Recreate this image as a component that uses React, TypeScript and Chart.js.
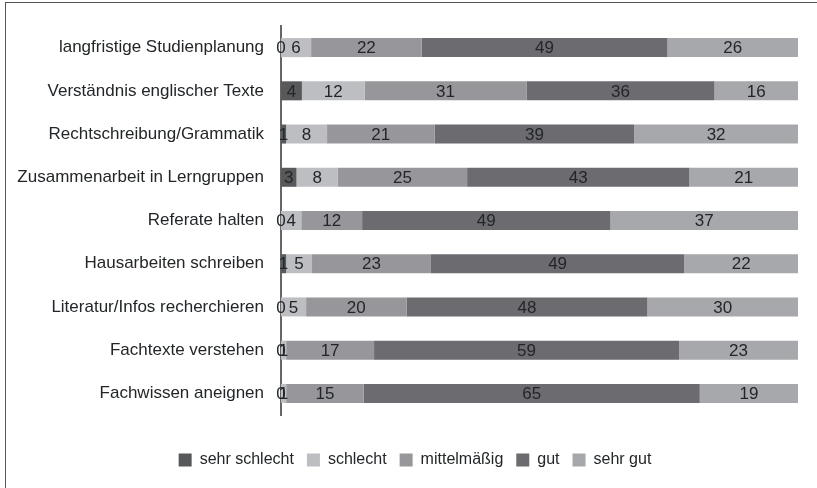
import React, { useEffect, useRef } from "react";
import { Chart, registerables } from "chart.js";

Chart.register(...registerables);

const categories = [
  "langfristige Studienplanung",
  "Verständnis englischer Texte",
  "Rechtschreibung/Grammatik",
  "Zusammenarbeit in Lerngruppen",
  "Referate halten",
  "Hausarbeiten schreiben",
  "Literatur/Infos recherchieren",
  "Fachtexte verstehen",
  "Fachwissen aneignen",
];

const sehrSchlecht = [0, 4, 1, 3, 0, 1, 0, 0, 0];
const schlecht = [6, 12, 8, 8, 4, 5, 5, 1, 1];
const mittelmaessig = [22, 31, 21, 25, 12, 23, 20, 17, 15];
const gut = [49, 36, 39, 43, 49, 49, 48, 59, 65];
const sehrGut = [26, 16, 32, 21, 37, 22, 30, 23, 19];

const seriesNames = ["sehr schlecht", "schlecht", "mittelmäßig", "gut", "sehr gut"];
const seriesValues = [sehrSchlecht, schlecht, mittelmaessig, gut, sehrGut];
const seriesColors = ["#58595b", "#bdbec2", "#97979b", "#6b6b70", "#a7a8ab"];

const FONT = "'Liberation Sans', Arial, sans-serif";
const TEXT = "#232628";

const rowSums = categories.map((_, i) =>
  seriesValues.reduce((s, arr) => s + arr[i], 0)
);

const labelPlugin = {
  id: "segmentLabels",
  afterDatasetsDraw(chart: any) {
    const ctx = chart.ctx;
    ctx.save();
    ctx.font = `17px ${FONT}`;
    ctx.fillStyle = TEXT;
    ctx.textAlign = "center";
    ctx.textBaseline = "middle";
    chart.data.datasets.forEach((ds: any, di: number) => {
      const meta = chart.getDatasetMeta(di);
      meta.data.forEach((el: any, i: number) => {
        const p = el.getProps(["x", "y", "base"], true);
        const cx = (p.x + p.base) / 2;
        ctx.fillText(String(ds.rawValues[i]), cx, p.y + 1);
      });
    });
    ctx.restore();
  },
};

const legendShiftPlugin = {
  id: "legendShift",
  afterLayout(chart: any) {
    const lg = chart.legend;
    if (lg) {
      lg.left += 16;
      lg.right += 16;
    }
  },
};

export default function App() {
  const canvasRef = useRef<HTMLCanvasElement | null>(null);

  useEffect(() => {
    document.body.style.margin = "0";
    const canvas = canvasRef.current;
    if (!canvas) return;
    const chart = new Chart(canvas, {
      type: "bar",
      data: {
        labels: categories,
        datasets: seriesNames.map((name, si) => ({
          label: name,
          data: seriesValues[si].map((v, i) => (v / rowSums[i]) * 100),
          rawValues: seriesValues[si],
          backgroundColor: seriesColors[si],
          borderWidth: 0,
          barPercentage: 0.44,
          categoryPercentage: 1,
        })) as any,
      },
      options: {
        indexAxis: "y",
        animation: false,
        responsive: false,
        maintainAspectRatio: false,
        layout: { padding: { top: 26, right: 19, left: 0, bottom: 10 } },
        scales: {
          x: {
            stacked: true,
            min: 0,
            max: 100,
            display: true,
            grid: { display: false },
            border: { display: false },
            ticks: { display: false },
            afterFit(scale: any) {
              scale.height = 24;
            },
          },
          y: {
            stacked: true,
            grid: { display: false },
            border: { display: true, color: "#666666", width: 2 },
            ticks: {
              color: TEXT,
              font: { size: 17, family: FONT },
              padding: 9,
            },
            afterFit(scale: any) {
              scale.width = 281;
            },
          },
        },
        plugins: {
          legend: {
            position: "bottom",
            labels: {
              boxWidth: 13,
              boxHeight: 13,
              padding: 13,
              color: TEXT,
              font: { size: 16, family: FONT },
            },
          },
          tooltip: { enabled: false },
        },
      } as any,
      plugins: [labelPlugin, legendShiftPlugin],
    });
    return () => chart.destroy();
  }, []);

  return (
    <div style={{ position: "relative", width: 817, height: 488, overflow: "hidden", background: "#fff" }}>
      <canvas ref={canvasRef} width={817} height={488} style={{ display: "block" }} />
      <div
        style={{
          position: "absolute",
          left: 5,
          top: 2,
          width: 840,
          height: 520,
          borderLeft: "1px solid #555",
          borderTop: "1px solid #555",
          pointerEvents: "none",
        }}
      />
    </div>
  );
}
